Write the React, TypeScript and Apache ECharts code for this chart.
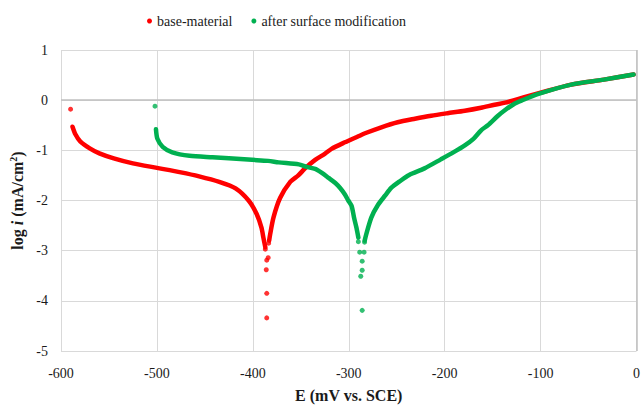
import React, { useEffect, useRef } from "react";
import * as echarts from "echarts";

const xTicks = { min: -600, max: 0, interval: 100 };
const yTicks = { min: -5, max: 1, interval: 1 };

const seriesNames = ["base-material", "after surface modification"];

// base-material: cathodic branch, anodic branch, isolated points
const redLeft: [number, number][] = [
  [-588, -0.53], [-585, -0.68], [-580, -0.82], [-570, -0.96], [-560, -1.06],
  [-545, -1.16], [-525, -1.26], [-500, -1.35], [-475, -1.44], [-456, -1.52],
  [-435, -1.63], [-418, -1.76], [-404, -2.01], [-396, -2.27], [-391, -2.54],
  [-389, -2.74], [-387, -2.93],
];
const redRight: [number, number][] = [
  [-383, -2.8], [-382, -2.68], [-378.5, -2.34], [-371.6, -1.95], [-361, -1.63],
  [-352.6, -1.5], [-345.6, -1.36], [-335, -1.19], [-325, -1.07], [-318, -0.97],
  [-304, -0.84], [-290, -0.72], [-283, -0.66], [-266, -0.54], [-249, -0.44],
  [-231, -0.37], [-214, -0.31], [-197, -0.26], [-179, -0.21], [-162, -0.15],
  [-148, -0.09], [-137, -0.05], [-117, 0.06], [-100, 0.15], [-68, 0.31],
  [-34, 0.41], [-3, 0.51],
];
const redDots: [number, number][] = [
  [-590, -0.18], [-383.5, -2.85], [-387, -2.97], [-384, -3.14], [-385.5, -3.19],
  [-386, -3.38], [-385.5, -3.85], [-385.5, -4.34],
];

// after surface modification
const greenLeft: [number, number][] = [
  [-501, -0.58], [-499.5, -0.77], [-494, -0.93], [-484, -1.04], [-466, -1.11],
  [-442, -1.14], [-425, -1.16], [-401, -1.19], [-384, -1.21], [-373, -1.24],
  [-352, -1.28], [-344, -1.33], [-335, -1.37], [-328, -1.45], [-321, -1.55],
  [-314, -1.65], [-309, -1.75], [-304, -1.88], [-300.5, -2.0], [-297, -2.11],
  [-294.5, -2.34], [-292, -2.54], [-290, -2.74],
];
const greenRight: [number, number][] = [
  [-283.4, -2.8], [-281.7, -2.67], [-276.5, -2.34], [-269.6, -2.09], [-262, -1.9],
  [-255.8, -1.75], [-247, -1.62], [-237, -1.49], [-221, -1.36], [-204, -1.18],
  [-191, -1.04], [-179, -0.9], [-170, -0.77], [-162, -0.6], [-155, -0.5],
  [-145, -0.32], [-138, -0.21], [-128, -0.08], [-120, -0.01], [-103, 0.12],
  [-68, 0.31], [-34, 0.41], [-3, 0.51],
];
const greenDots: [number, number][] = [
  [-502, -0.12], [-290, -2.82], [-283.5, -2.83], [-288.6, -3.03], [-284, -3.03],
  [-286, -3.21], [-286, -3.39], [-287.5, -3.51], [-286, -4.19],
];

const RED = "#ff0000";
const GREEN = "#00b050";
const FONT = "Liberation Serif";
const INK = "#1a1a1a";

function lineSeries(name: string, color: string, data: [number, number][], z: number) {
  return {
    name,
    type: "line",
    data,
    smooth: 0.25,
    showSymbol: false,
    symbol: "none",
    z,
    lineStyle: { color, width: 4.5, cap: "round", join: "round" },
    itemStyle: { color },
  };
}

function dotSeries(name: string, color: string, data: [number, number][], z: number) {
  return {
    name,
    type: "scatter",
    data,
    symbol: "circle",
    symbolSize: 5,
    z,
    itemStyle: { color },
  };
}

export default function App() {
  const ref = useRef<HTMLDivElement>(null);
  useEffect(() => {
    if (!ref.current) return;
    const chart = echarts.init(ref.current, null, { renderer: "svg" });
    const label = { fontFamily: FONT, fontSize: 14, color: INK };
    const bold = { fontFamily: FONT, fontSize: 16, fontWeight: "bold", color: INK };
    chart.setOption({
      animation: false,
      backgroundColor: "#ffffff",
      textStyle: { fontFamily: FONT },
      legend: {
        left: 142,
        top: 9,
        itemWidth: 5,
        itemHeight: 5,
        itemGap: 19,
        textStyle: { ...label },
        data: [
          { name: seriesNames[0], icon: "circle", itemStyle: { color: RED } },
          { name: seriesNames[1], icon: "circle", itemStyle: { color: GREEN } },
        ],
      },
      grid: { left: 61, right: 4, top: 50, bottom: 53 },
      xAxis: {
        type: "value",
        min: xTicks.min,
        max: xTicks.max,
        interval: xTicks.interval,
        name: "E (mV vs. SCE)",
        nameLocation: "middle",
        nameGap: 36,
        nameTextStyle: { ...bold },
        axisLine: { show: false },
        axisTick: { show: false },
        axisLabel: { ...label, margin: 15 },
        splitLine: { show: true, lineStyle: { color: "#d9d9d9", width: 1 } },
      },
      yAxis: {
        type: "value",
        min: yTicks.min,
        max: yTicks.max,
        interval: yTicks.interval,
        name: "{b|log }{i|i}{b| (mA/cm}{s|2}{b|)}",
        nameLocation: "middle",
        nameRotate: 90,
        nameGap: 34,
        nameTextStyle: {
          ...bold,
          rich: {
            b: { ...bold },
            i: { ...bold, fontStyle: "italic" },
            s: { ...bold, fontSize: 10, verticalAlign: "top", padding: [0, 0, 8, 0] },
          },
        },
        axisLine: { show: false },
        axisTick: { show: false },
        axisLabel: { ...label, margin: 13 },
        splitLine: { show: true, lineStyle: { color: "#d9d9d9", width: 1 } },
      },
      series: [
        {
          ...lineSeries(seriesNames[0], RED, redLeft, 2),
          markLine: {
            silent: true,
            symbol: "none",
            label: { show: false },
            lineStyle: { color: "#bfbfbf", width: 1.5, type: "solid" },
            data: [{ yAxis: 0 }, { xAxis: 0 }],
            z: 1,
          },
        },
        lineSeries(seriesNames[0], RED, redRight, 2),
        dotSeries(seriesNames[0], RED, redDots, 2),
        lineSeries(seriesNames[1], GREEN, greenLeft, 3),
        lineSeries(seriesNames[1], GREEN, greenRight, 3),
        dotSeries(seriesNames[1], GREEN, greenDots, 3),
      ],
    });
    return () => chart.dispose();
  }, []);
  return <div ref={ref} style={{ width: 643, height: 408, position: "absolute", left: 0, top: 0 }} />;
}
